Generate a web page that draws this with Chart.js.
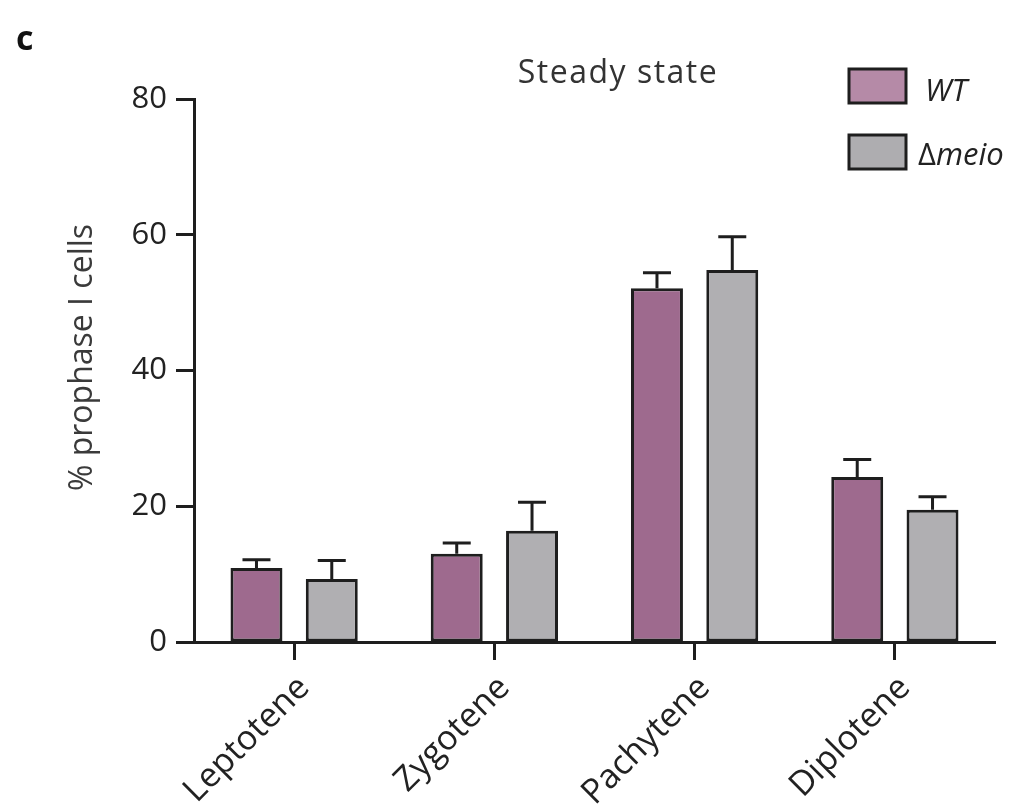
<!DOCTYPE html>
<html>
<head>
    <title>Steady state</title>
    <style>
        body { margin: 0; background: #fff; }
        #chart { display: block; }
    </style>
    <script src="https://cdn.jsdelivr.net/npm/chart.js"></script>
</head>
<body>
    <canvas id="chart" width="1024" height="808"></canvas>

    <script>
        // Stages of prophase I
        const categories = ['Leptotene', 'Zygotene', 'Pachytene', 'Diplotene'];
        // % prophase I cells, mean and upper error
        const wtMean = [10.9, 13.0, 52.1, 24.3];
        const wtErr = [1.2, 1.6, 2.3, 2.6];
        const meioMean = [9.3, 16.4, 54.8, 19.5];
        const meioErr = [2.7, 4.2, 4.9, 1.9];
        const yTicks = [0, 20, 40, 60, 80];

        const FONT = '"Open Sans", "Noto Sans", sans-serif';
        const INK = '#1e1e1e';

        // upper error bars, drawn through the chart scales
        const errorBars = {
            id: 'errorBars',
            afterDatasetsDraw(chart) {
                const ctx = chart.ctx;
                const y = chart.scales.y;
                chart.data.datasets.forEach((ds, i) => {
                    const meta = chart.getDatasetMeta(i);
                    meta.data.forEach((bar, j) => {
                        const top = y.getPixelForValue(ds.data[j]);
                        const cap = y.getPixelForValue(ds.data[j] + ds.errors[j]);
                        ctx.save();
                        ctx.strokeStyle = INK;
                        ctx.lineWidth = 3;
                        ctx.beginPath();
                        ctx.moveTo(bar.x, top);
                        ctx.lineTo(bar.x, cap);
                        ctx.moveTo(bar.x - 14, cap);
                        ctx.lineTo(bar.x + 14, cap);
                        ctx.stroke();
                        ctx.restore();
                    });
                });
            }
        };

        // panel letter, heading, y title and the legend at top right
        const decorations = {
            id: 'decorations',
            afterDraw(chart) {
                const ctx = chart.ctx;
                const area = chart.chartArea;
                ctx.save();
                ctx.fillStyle = '#111';
                ctx.font = 'bold 34px ' + FONT;
                ctx.textBaseline = 'alphabetic';
                ctx.fillText('c', 16, 50);

                ctx.fillStyle = '#333';
                ctx.font = '32px ' + FONT;
                ctx.letterSpacing = '1.5px';
                ctx.textAlign = 'center';
                ctx.fillText('Steady state', 618, 83);
                ctx.letterSpacing = '0px';

                // y axis title
                ctx.save();
                ctx.translate(83, (area.top + area.bottom) / 2 - 13);
                ctx.rotate(-Math.PI / 2);
                ctx.fillStyle = '#3a3a3a';
                ctx.font = '32px ' + FONT;
                ctx.textBaseline = 'middle';
                ctx.fillText('% prophase I cells', 0, 0);
                ctx.restore();

                const items = [
                    { fill: '#b58aa7', y: 68 },
                    { fill: '#aeadb0', y: 134 }
                ];
                items.forEach(it => {
                    ctx.fillStyle = it.fill;
                    ctx.fillRect(849, it.y + 1, 57, 34);
                    ctx.strokeStyle = INK;
                    ctx.lineWidth = 3;
                    ctx.strokeRect(849, it.y + 1, 57, 34);
                });

                ctx.textAlign = 'left';
                ctx.fillStyle = '#222';
                ctx.font = 'italic 31px ' + FONT;
                ctx.fillText('WT', 925, 101);
                ctx.font = '31px ' + FONT;
                ctx.fillText('\u0394', 918, 165);
                const dw = ctx.measureText('\u0394').width;
                ctx.font = 'italic 31px ' + FONT;
                ctx.fillText('meio', 918 + dw, 165);
                ctx.restore();
            }
        };

        new Chart(document.getElementById('chart'), {
            type: 'bar',
            data: {
                labels: categories,
                datasets: [{
                    label: 'WT',
                    data: wtMean,
                    errors: wtErr,
                    backgroundColor: '#9e6a8e',
                    borderColor: INK,
                    borderWidth: 3,
                    borderSkipped: false
                }, {
                    label: '\u0394meio',
                    data: meioMean,
                    errors: meioErr,
                    backgroundColor: '#b0afb2',
                    borderColor: INK,
                    borderWidth: 3,
                    borderSkipped: false
                }]
            },
            options: {
                responsive: false,
                animation: false,
                categoryPercentage: 0.752,
                barPercentage: 0.69,
                layout: { padding: { top: 99, right: 29, left: 0, bottom: 0 } },
                plugins: {
                    legend: { display: false },
                    tooltip: { enabled: false }
                },
                scales: {
                    x: {
                        afterFit(scale) { scale.height = 166; },
                        border: { display: true, color: INK, width: 3 },
                        grid: {
                            drawOnChartArea: false,
                            offset: false,
                            tickLength: 18,
                            tickWidth: 3,
                            tickColor: INK
                        },
                        ticks: {
                            minRotation: 45,
                            maxRotation: 45,
                            padding: 8,
                            labelOffset: 10,
                            color: '#222',
                            font: { family: FONT, size: 34 }
                        }
                    },
                    y: {
                        min: 0,
                        max: 80,
                        afterFit(scale) { scale.width = 194; },
                        afterBuildTicks(scale) { scale.ticks = yTicks.map(v => ({ value: v })); },
                        border: { display: true, color: INK, width: 3 },
                        grid: {
                            drawOnChartArea: false,
                            tickLength: 18,
                            tickWidth: 3,
                            tickColor: INK
                        },
                        ticks: {
                            padding: 9,
                            color: '#222',
                            font: { family: FONT, size: 31 }
                        }
                    }
                }
            },
            plugins: [errorBars, decorations]
        });
    </script>
</body>
</html>
